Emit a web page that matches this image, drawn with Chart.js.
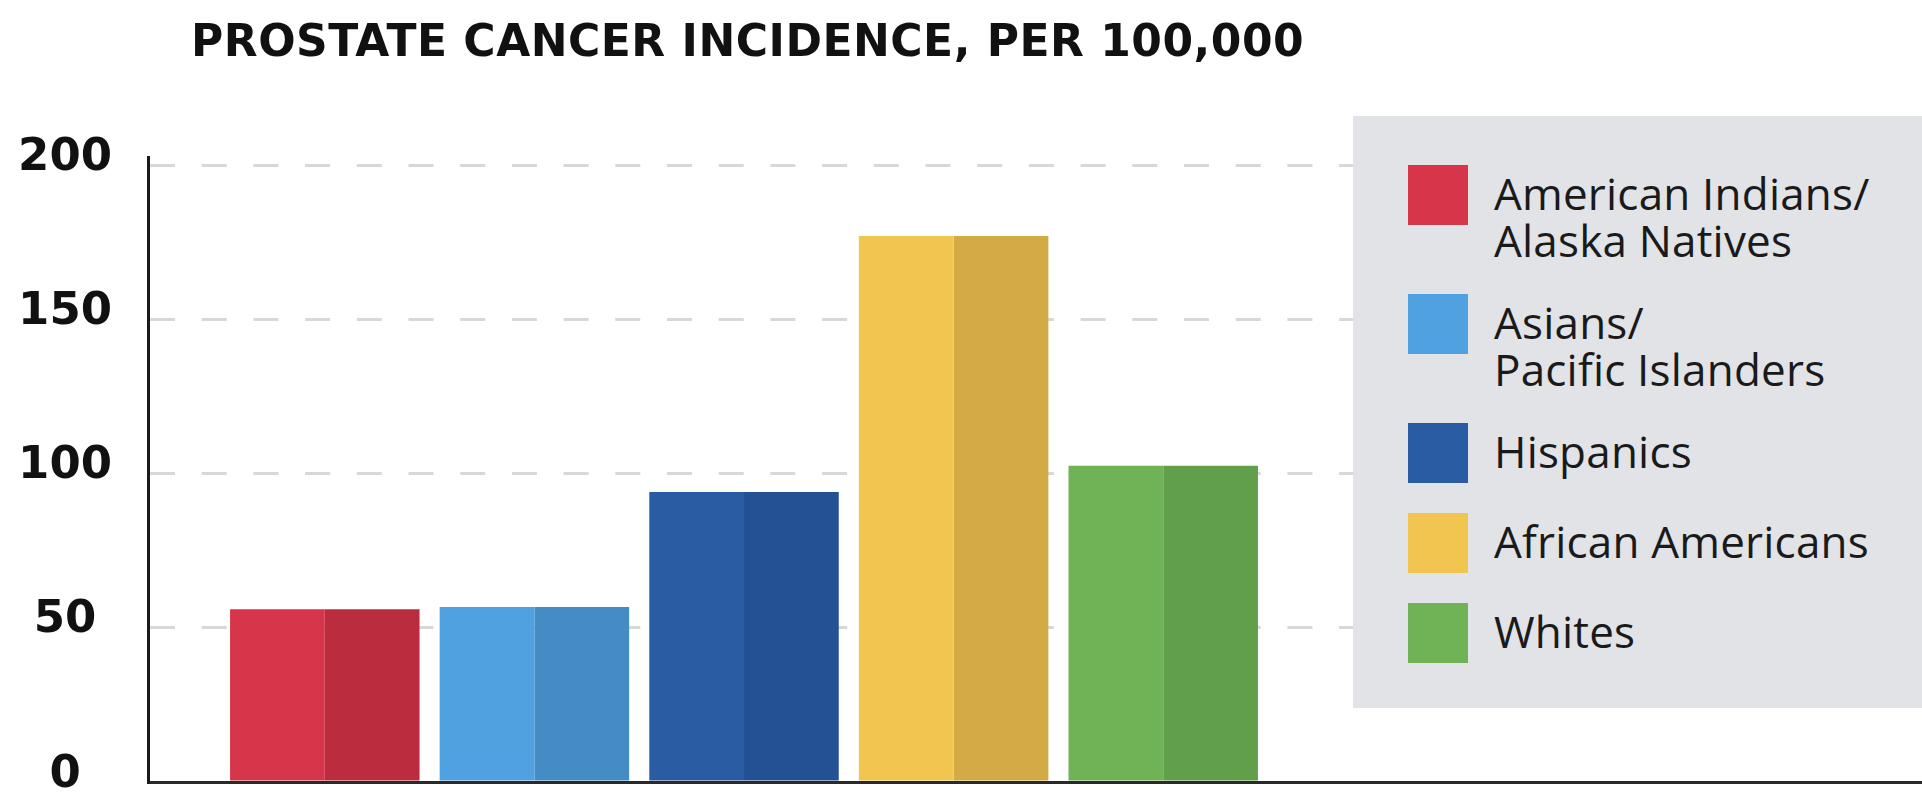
<!DOCTYPE html>
<html>
<head>
<meta charset="utf-8">
<title>Prostate cancer incidence</title>
<script src="https://cdn.jsdelivr.net/npm/chart.js@4.4.1/dist/chart.umd.min.js"></script>
<style>
  html, body { margin: 0; padding: 0; background: #fff; overflow: hidden; }
  #wrap { position: relative; width: 1922px; height: 847px; }
  #chart { position: absolute; left: 0; top: 0; }
  h1 {
    position: absolute; left: 191px; top: 19px; margin: 0;
    font: bold 44px/44px "DejaVu Sans", sans-serif; color: #111; white-space: nowrap;
    letter-spacing: 0.5px;
  }
  .legend {
    position: absolute; left: 1353px; top: 116px; width: 569px; height: 592px;
    box-sizing: border-box; padding: 49px 0 0 55px; background: #e1e3e6;
    display: flex; flex-direction: column; gap: 30px;
  }
  .item { display: flex; align-items: flex-start; }
  .swatch { width: 60px; height: 60px; flex: none; }
  .label {
    margin-left: 26px; padding-top: 5px;
    font: 44px/47px "Open Sans", sans-serif; color: #1a1a1a; letter-spacing: 0.2px;
  }
</style>
</head>
<body>
<div id="wrap">
  <canvas id="chart" width="1922" height="847"></canvas>
  <h1>PROSTATE CANCER INCIDENCE, PER 100,000</h1>
  <div class="legend" id="legend"></div>
</div>
<script>
// groups, one bar each
const categories = [
  ['American Indians/', 'Alaska Natives'],
  ['Asians/', 'Pacific Islanders'],
  ['Hispanics'],
  ['African Americans'],
  ['Whites']
];
// cases per 100,000
const incidence = [56, 56.7, 94, 177, 102.5];
// left (lit) and right (shaded) halves of each bar
const lightColors = ['#d7354a', '#4fa1df', '#2a5ca4', '#f2c450', '#70b357'];
const darkColors = ['#ba2c3e', '#448cc4', '#245194', '#d3aa45', '#629f4b'];
const yTicks = [0, 50, 100, 150, 200];

// legend box
const legendEl = document.getElementById('legend');
categories.forEach((lines, i) => {
  const item = document.createElement('div');
  item.className = 'item';
  const sw = document.createElement('div');
  sw.className = 'swatch';
  sw.style.background = lightColors[i];
  const lab = document.createElement('div');
  lab.className = 'label';
  lab.innerHTML = lines.join('<br>');
  item.appendChild(sw);
  item.appendChild(lab);
  legendEl.appendChild(item);
});

const toPoints = () => incidence.map((v, i) => ({ x: i, y: v }));

new Chart(document.getElementById('chart'), {
  type: 'bar',
  data: {
    datasets: [
      { label: 'light', data: toPoints(), backgroundColor: lightColors },
      { label: 'dark', data: toPoints(), backgroundColor: darkColors }
    ]
  },
  options: {
    responsive: false,
    animation: false,
    events: [],
    layout: { padding: { top: 157, left: 0, right: 0, bottom: 0 } },
    datasets: { bar: { categoryPercentage: 0.904, barPercentage: 1 } },
    plugins: {
      legend: { display: false },
      tooltip: { enabled: false }
    },
    scales: {
      x: {
        type: 'linear',
        offset: false,
        min: -0.8435,
        max: 7.62,
        z: 1,
        ticks: { display: false },
        grid: { display: false },
        border: { color: '#2a2a2a', width: 3 },
        afterBuildTicks: s => { s.ticks = categories.map((c, i) => ({ value: i })); },
        afterFit: s => { s.height = 65; }
      },
      y: {
        min: 0,
        max: 202.6,
        afterBuildTicks: s => { s.ticks = yTicks.map(v => ({ value: v })); },
        afterFit: s => { s.width = 148; },
        ticks: {
          font: { family: 'DejaVu Sans', size: 45, weight: 'bold' },
          color: '#111',
          crossAlign: 'center',
          padding: 36,
          labelOffset: -7
        },
        grid: {
          color: c => (c.tick && c.tick.value === 0 ? 'rgba(0,0,0,0)' : '#d8d8d8'),
          lineWidth: 3,
          drawTicks: false
        },
        border: { color: '#1a1a1a', width: 3, dash: [25, 26.7], dashOffset: 0 }
      }
    }
  }
});
</script>
</body>
</html>
